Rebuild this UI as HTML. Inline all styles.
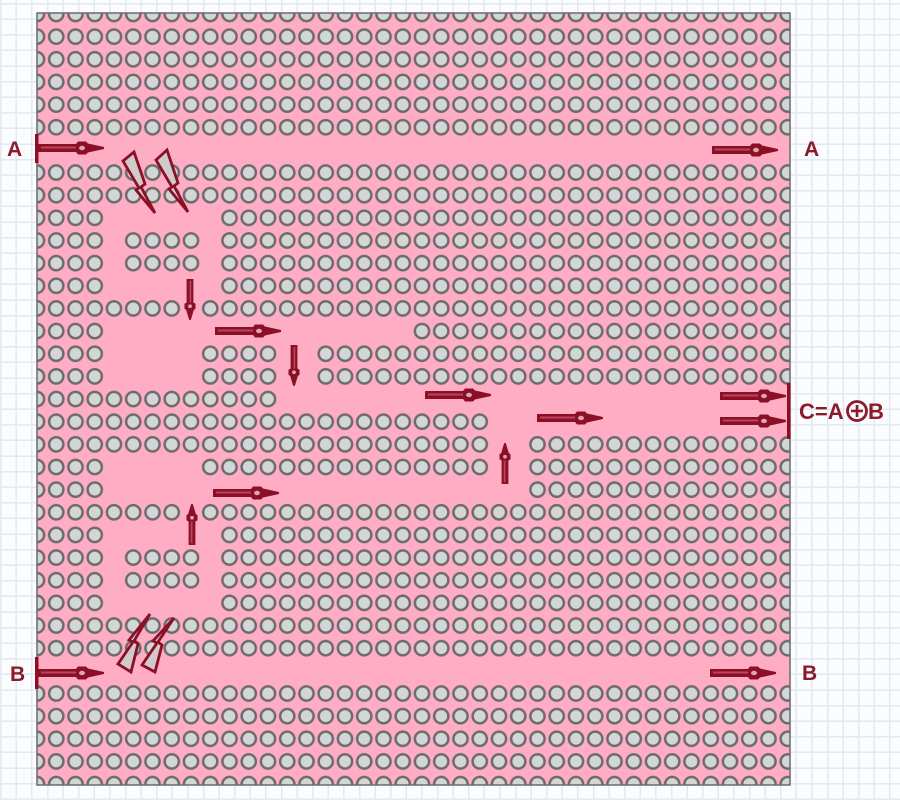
<!DOCTYPE html>
<html><head><meta charset="utf-8"><style>
html,body{margin:0;padding:0;}
body{width:900px;height:800px;overflow:hidden;background-color:#fafcfe;
background-image:repeating-linear-gradient(0deg,#e2e9f0 0 1.5px,transparent 1.5px 15.6px),repeating-linear-gradient(90deg,#e2e9f0 0 1.5px,transparent 1.5px 15.6px);}
svg{position:absolute;left:0;top:0;}
</style></head><body>
<svg width="900" height="800" viewBox="0 0 900 800">
<defs>
<pattern id="pc" patternUnits="userSpaceOnUse" x="27.375" y="2.675" width="19.25" height="22.65">
<rect width="19.25" height="22.65" fill="#ffadc5"/>
<circle cx="9.625" cy="11.325" r="7.1" fill="#d2d6d6" stroke="#6e6a6c" stroke-width="2.5"/>
</pattern>
<clipPath id="box"><rect x="37" y="13" width="753" height="772"/></clipPath>
<g id="arr">
<path d="M0,-4 L38,-4 L40,-6.5 L48,-6.5 L50,-4.5 L66,-1 L66,1 L50,4.5 L48,6.5 L40,6.5 L38,4 L0,4Z" fill="#8b0f25"/>
<path d="M3,-0.5 L38,-0.5" stroke="#b84660" stroke-width="2"/>
<ellipse cx="44" cy="0" rx="3" ry="2.2" fill="#d9a6b2"/>
</g>
</defs>
<g clip-path="url(#box)">
<rect x="37" y="13" width="753" height="772" fill="url(#pc)"/>
<g fill="#ffadc5">
<rect x="27" y="138.5" width="770" height="22.7"/>
<rect x="104.4" y="206.5" width="115.5" height="22.7"/>
<rect x="104.4" y="229.1" width="19.3" height="45.4"/>
<rect x="200.6" y="229.1" width="19.3" height="45.4"/>
<rect x="104.4" y="274.4" width="115.5" height="22.7"/>
<rect x="181.4" y="297.1" width="19.3" height="22.7"/>
<rect x="104.4" y="319.7" width="308" height="22.7"/>
<rect x="104.4" y="342.4" width="96.3" height="45.3"/>
<rect x="277.6" y="342.4" width="38.5" height="45.3"/>
<rect x="277.6" y="387.7" width="520" height="22.7"/>
<rect x="489.4" y="410.3" width="310" height="22.7"/>
<rect x="489.4" y="433" width="38.5" height="45.3"/>
<rect x="104.4" y="455.6" width="96.3" height="22.7"/>
<rect x="104.4" y="478.3" width="423.5" height="22.7"/>
<rect x="181.4" y="500.9" width="19.3" height="22.7"/>
<rect x="104.4" y="523.6" width="115.5" height="22.7"/>
<rect x="104.4" y="546.2" width="19.3" height="45.3"/>
<rect x="200.6" y="546.2" width="19.3" height="45.3"/>
<rect x="104.4" y="591.5" width="115.5" height="22.7"/>
<rect x="27" y="659.5" width="770" height="22.7"/>
</g>
</g>
<rect x="37" y="13" width="753" height="772" fill="none" stroke="#6a6a6a" stroke-width="1.5"/>
<rect x="35" y="134" width="3.5" height="29" fill="#8b0f25"/>
<rect x="35" y="657" width="3.5" height="32" fill="#8b0f25"/>
<rect x="787" y="383" width="3.5" height="56" fill="#8b0f25"/>
<use href="#arr" transform="translate(38,148)"/>
<use href="#arr" transform="translate(38,673)"/>
<use href="#arr" transform="translate(712,150)"/>
<use href="#arr" transform="translate(710,673)"/>
<use href="#arr" transform="translate(720,396)"/>
<use href="#arr" transform="translate(720,421)"/>
<use href="#arr" transform="translate(215,331)"/>
<use href="#arr" transform="translate(425,395)"/>
<use href="#arr" transform="translate(537,418)"/>
<use href="#arr" transform="translate(213,493)"/>
<use href="#arr" transform="translate(190,279) rotate(90) scale(0.62,0.85)"/>
<use href="#arr" transform="translate(294,345) rotate(90) scale(0.62,0.85)"/>
<use href="#arr" transform="translate(505,484) rotate(-90) scale(0.62,0.85)"/>
<use href="#arr" transform="translate(192,545) rotate(-90) scale(0.62,0.85)"/>
<g fill="#d0cacd" stroke="#8b0f25" stroke-width="2.8" stroke-linejoin="miter">
<polygon points="123,161 134,152 145,184 141,187 155,213 136,190 139,188"/>
<polygon points="156,160 167,150 178,183 174,186 188,212 169,189 172,187"/>
<polygon points="118,664 131,672 138,644 134,641 150,614 129,640 133,642"/>
<polygon points="142,665 155,672 162,645 158,642 174,618 153,641 157,643"/>
</g>
<g font-family="Liberation Sans, DejaVu Sans, sans-serif" font-weight="bold" font-size="21" fill="#8b1a2a">
<text x="7" y="156">A</text>
<text x="804" y="156">A</text>
<text x="10" y="681">B</text>
<text x="802" y="680">B</text>
<text x="799" y="419" font-size="22">C=A</text>
<text x="868" y="419" font-size="22">B</text>
</g>
<circle cx="857" cy="411" r="9.5" fill="none" stroke="#8b1a2a" stroke-width="2.8"/>
<path d="M851,411 H863 M857,405 V417" stroke="#8b1a2a" stroke-width="2.6"/>
</svg>
</body></html>
